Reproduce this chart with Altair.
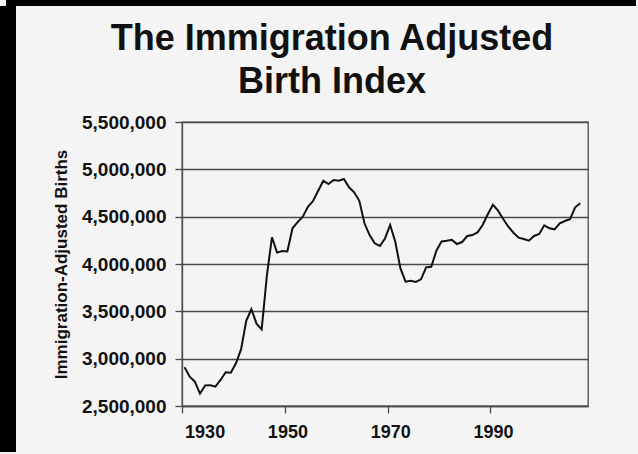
import altair as alt
import pandas as pd

years = list(range(1930, 2008))
births = [
    2909000, 2810000, 2757000, 2630000, 2718000, 2720000, 2704000, 2775000, 2856000, 2852000,
    2951000, 3100000, 3400000, 3522000, 3370000, 3310000, 3870000, 4282000, 4120000, 4136000,
    4132000, 4377000, 4443000, 4500000, 4605000, 4665000, 4774000, 4880000, 4845000, 4887000,
    4880000, 4898000, 4810000, 4757000, 4668000, 4430000, 4306000, 4218000, 4190000, 4270000,
    4412000, 4235000, 3954000, 3813000, 3823000, 3810000, 3838000, 3965000, 3971000, 4140000,
    4238000, 4245000, 4255000, 4211000, 4232000, 4296000, 4306000, 4334000, 4412000, 4525000,
    4625000, 4563000, 4475000, 4394000, 4330000, 4278000, 4264000, 4246000, 4296000, 4317000,
    4409000, 4377000, 4366000, 4430000, 4454000, 4472000, 4599000, 4641000,
]
x_ticks = [1930, 1950, 1970, 1990]
y_ticks = [2500000, 3000000, 3500000, 4000000, 4500000, 5000000, 5500000]
title_lines = ["The Immigration Adjusted", "Birth Index"]
y_title = "Immigration-Adjusted Births"

df = pd.DataFrame({"year": years, "births": births})
FONT = "Liberation Sans"
INK = "#111111"
GRID = "#4a4a4a"

line = (
    alt.Chart(df)
    .transform_calculate(xpos="datum.year + 0.5")
    .mark_line(color="#111111", strokeWidth=2)
    .encode(
        x=alt.X(
            "xpos:Q",
            scale=alt.Scale(domain=[1930, 2009], nice=False, zero=False),
            axis=alt.Axis(
                values=x_ticks, format="d", title=None, grid=False,
                labelOffset=2.6, tickSize=7, labelPadding=10,
                labelFontSize=18, labelFont=FONT, labelFontWeight="bold",
                labelColor=INK, domainColor=GRID, tickColor=GRID,
                domainWidth=1.3, tickWidth=1.3,
            ),
        ),
        y=alt.Y(
            "births:Q",
            scale=alt.Scale(domain=[2500000, 5500000], nice=False, zero=False),
            axis=alt.Axis(
                values=y_ticks, format=",d", title=y_title,
                titleX=-116, titleY=142, titleAngle=-90, titleAlign="center",
                titleBaseline="alphabetic", titleFont=FONT, titleFontSize=17,
                titleFontWeight="bold", titleColor=INK,
                grid=True, gridColor=GRID, gridWidth=1.3, gridOpacity=1,
                tickSize=7, labelPadding=9, labelFontSize=19, labelFont=FONT,
                labelFontWeight="bold", labelColor=INK,
                domainColor=GRID, tickColor=GRID, domainWidth=1.3, tickWidth=1.3,
            ),
        ),
    )
)

title_df = pd.DataFrame({"text": title_lines, "row": [0, 1]})
title = (
    alt.Chart(title_df)
    .mark_text(font=FONT, fontSize=36, fontWeight="bold", color=INK,
               align="center", baseline="alphabetic")
    .encode(
        text="text:N",
        x=alt.value(150),
        y=alt.Y("row:Q", scale=alt.Scale(domain=[0, 1], range=[-72, -29]), axis=None),
    )
)

frame_df = pd.DataFrame({"k": [0]})
left_strip = alt.Chart(frame_df).mark_rule(color="#000000", strokeWidth=16).encode(
    x=alt.value(-174), y=alt.value(-116), y2=alt.value(330)
)
top_strip = alt.Chart(frame_df).mark_rule(color="#000000", strokeWidth=6).encode(
    x=alt.value(-176), x2=alt.value(454), y=alt.value(-119)
)

chart = (
    alt.layer(left_strip, top_strip, title, line)
    .resolve_scale(y="independent")
    .properties(
        width=406,
        height=284,
        autosize=alt.AutoSizeParams(type="none"),
        padding={"left": 182, "top": 122, "right": 50, "bottom": 48},
        background="#f4f4f4",
    )
    .configure_view(stroke=GRID, strokeWidth=1.3, fill="#f4f4f4")
)

chart.save("out.html", embed_options={"renderer": "svg", "actions": False})
